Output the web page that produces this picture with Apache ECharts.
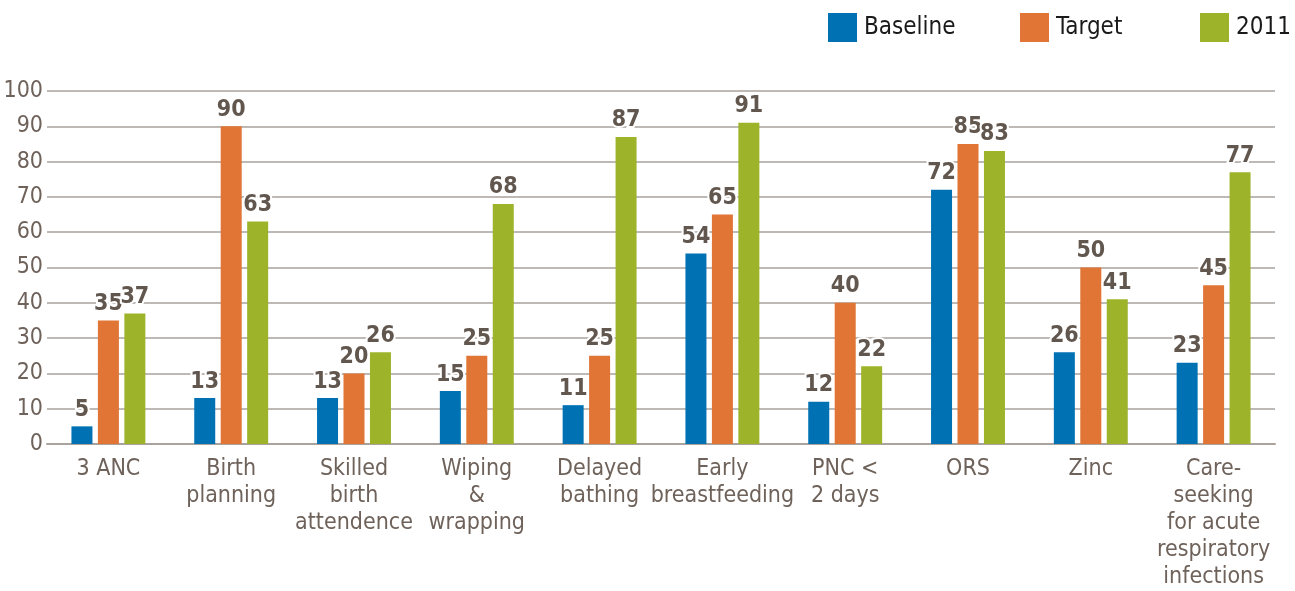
<!DOCTYPE html>
<html>
<head>
<meta charset="utf-8">
<script src="https://cdn.jsdelivr.net/npm/echarts@6/dist/echarts.min.js"></script>
<style>
  html, body { margin: 0; padding: 0; background: #fff; }
  #chart { width: 1295px; height: 591px; }
</style>
</head>
<body>
<div id="chart"></div>
<script>
// Indicator coverage (%): baseline, target and 2011 results
const categories = [
  '3 ANC',
  'Birth\nplanning',
  'Skilled\nbirth\nattendence',
  'Wiping\n&\nwrapping',
  'Delayed\nbathing',
  'Early\nbreastfeeding',
  'PNC <\n2 days',
  'ORS',
  'Zinc',
  'Care-\nseeking\nfor acute\nrespiratory\ninfections'
];
const baseline = [5, 13, 13, 15, 11, 54, 12, 72, 26, 23];
const target   = [35, 90, 20, 25, 25, 65, 40, 85, 50, 45];
const y2011    = [37, 63, 26, 68, 87, 91, 22, 83, 41, 77];
const yTicks   = [0, 10, 20, 30, 40, 50, 60, 70, 80, 90, 100];

const FONT = '"DejaVu Sans Condensed", "Liberation Sans Narrow", sans-serif';
const TEXT = '#6e625a';
const LABEL = '#62574f';
const COLORS = ['#0072b3', '#e07535', '#9db42a'];

const chart = echarts.init(document.getElementById('chart'), null, { renderer: 'canvas' });

function barSeries(name, data, color) {
  return {
    name: name,
    type: 'bar',
    data: data,
    barWidth: 21,
    barGap: '26%',
    itemStyle: { color: color },
    label: {
      show: true,
      position: 'top',
      distance: 5,
      color: LABEL,
      fontFamily: FONT,
      fontSize: 23,
      fontWeight: 'bold',
      textBorderColor: '#ffffff',
      textBorderWidth: 4
    }
  };
}

function legendAt(left, name) {
  return {
    left: left,
    top: 13,
    padding: 0,
    data: [name],
    itemWidth: 29,
    itemHeight: 29,
    itemGap: 0,
    icon: 'rect',
    textStyle: { fontFamily: FONT, fontSize: 24, color: '#1a1a1a', padding: [2, 0, 0, 2] }
  };
}

chart.setOption({
  animation: false,
  textStyle: { fontFamily: FONT },
  legend: [
    legendAt(828, 'Baseline'),
    legendAt(1020, 'Target'),
    legendAt(1200, '2011')
  ],
  grid: { left: 47, right: 20, top: 91, bottom: 144, containLabel: false },
  xAxis: {
    type: 'category',
    data: categories,
    axisLine: { show: true, lineStyle: { color: '#aaa39d', width: 2 } },
    axisTick: { show: false },
    axisLabel: {
      interval: 0,
      margin: 12,
      color: TEXT,
      fontFamily: FONT,
      fontSize: 23,
      lineHeight: 27,
      align: 'center'
    }
  },
  yAxis: {
    type: 'value',
    min: 0,
    max: 100,
    interval: 10,
    axisLine: { show: false },
    axisTick: { show: false },
    splitLine: { lineStyle: { color: '#a9a29c', width: 1.5 } },
    axisLabel: {
      margin: 4,
      color: TEXT,
      fontFamily: FONT,
      fontSize: 23,
      formatter: function (v) { return yTicks.indexOf(v) >= 0 ? String(v) : ''; }
    }
  },
  series: [
    barSeries('Baseline', baseline, COLORS[0]),
    barSeries('Target', target, COLORS[1]),
    barSeries('2011', y2011, COLORS[2])
  ]
});
</script>
</body>
</html>
